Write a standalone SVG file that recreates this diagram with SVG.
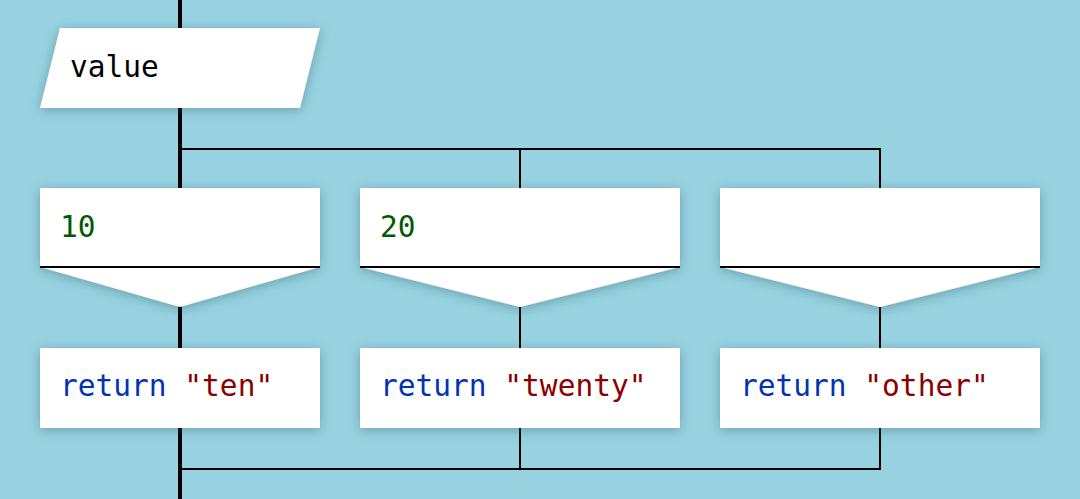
<svg xmlns="http://www.w3.org/2000/svg" width="1080" height="499" viewBox="0 0 1080 499">
<defs>
<filter id="sh" x="-20%" y="-40%" width="140%" height="180%">
<feDropShadow dx="0" dy="2" stdDeviation="6" flood-color="#2a5f70" flood-opacity="0.45"/>
</filter>
<style>
.box{fill:#ffffff;filter:url(#sh)}
.main{stroke:#000;stroke-width:4;fill:none}
.br{stroke:#000;stroke-width:2;fill:none}
.t{font-family:"DejaVu Sans Mono","Liberation Mono",monospace;font-size:29.5px}
.kw{fill:#0033b3}
.str{fill:#8b0000}
.num{fill:#005a00}
.id{fill:#000}
</style>
</defs>
<rect width="1080" height="499" fill="#98d2e0"/>
<g id="connectors">
<line class="main" x1="180" y1="0" x2="180" y2="499"/>
<polyline class="br" points="180,149 880,149 880,188"/>
<line class="br" x1="520" y1="149" x2="520" y2="188"/>
<line class="br" x1="520" y1="307" x2="520" y2="348"/>
<line class="br" x1="880" y1="307" x2="880" y2="348"/>
<polyline class="br" points="880,428 880,469 180,469"/>
<line class="br" x1="520" y1="428" x2="520" y2="469"/>
</g>
<g id="input">
<polygon class="box" points="60,28 320,28 300,108 40,108"/>
<text class="t id" x="70" y="77">value</text>
</g>
<g id="case1">
<polygon class="box" points="40,188 320,188 320,267 180,307 40,267"/>
<line class="br" x1="40" y1="267" x2="320" y2="267"/>
<text class="t num" x="60" y="237">10</text>
</g>
<g id="case2">
<polygon class="box" points="360,188 680,188 680,267 520,307 360,267"/>
<line class="br" x1="360" y1="267" x2="680" y2="267"/>
<text class="t num" x="380" y="237">20</text>
</g>
<g id="case3">
<polygon class="box" points="720,188 1040,188 1040,267 880,307 720,267"/>
<line class="br" x1="720" y1="267" x2="1040" y2="267"/>
</g>
<g id="ret1">
<rect class="box" x="40" y="348" width="280" height="80"/>
<text class="t" x="60" y="396"><tspan class="kw">return</tspan> <tspan class="str">"ten"</tspan></text>
</g>
<g id="ret2">
<rect class="box" x="360" y="348" width="320" height="80"/>
<text class="t" x="380" y="396"><tspan class="kw">return</tspan> <tspan class="str">"twenty"</tspan></text>
</g>
<g id="ret3">
<rect class="box" x="720" y="348" width="320" height="80"/>
<text class="t" x="740" y="396"><tspan class="kw">return</tspan> <tspan class="str">"other"</tspan></text>
</g>
</svg>
